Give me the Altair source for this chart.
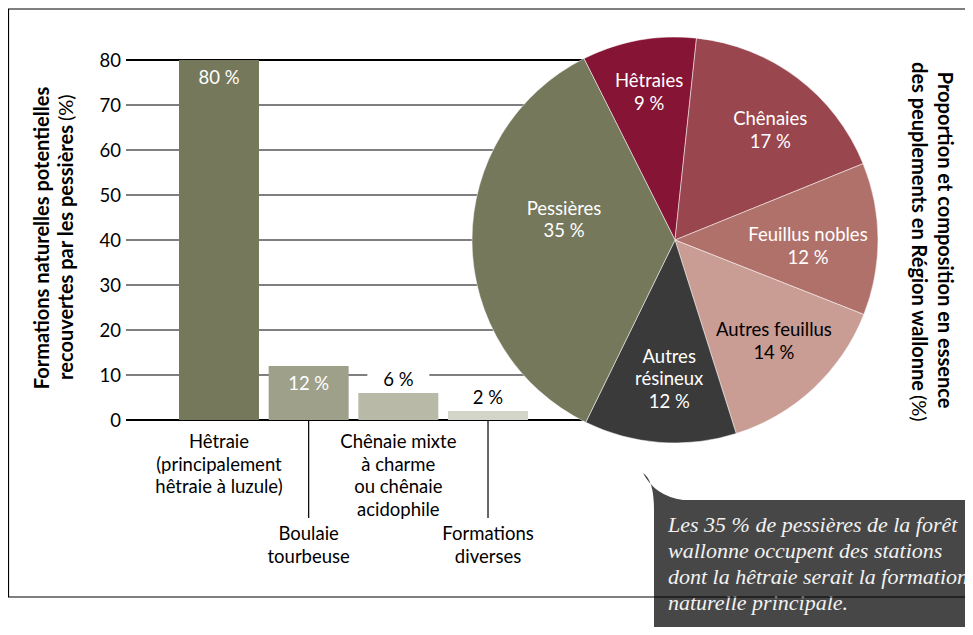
import math
import altair as alt
import pandas as pd

# ---------------- data ----------------
bar_cats = [
    "Hêtraie\n(principalement\nhêtraie à luzule)",
    "Boulaie\ntourbeuse",
    "Chênaie mixte\nà charme\nou chênaie\nacidophile",
    "Formations\ndiverses",
]
bar_vals = [80, 12, 6, 2]
bar_colors = ["#76785c", "#9ea08a", "#b8baa7", "#d4d5c9"]
y_ticks = [0, 10, 20, 30, 40, 50, 60, 70, 80]

pie_cats = ["Hêtraies", "Chênaies", "Feuillus nobles", "Autres feuillus", "Autres résineux", "Pessières"]
pie_names = ["Hêtraies", "Chênaies", "Feuillus nobles", "Autres feuillus", "Autres\nrésineux", "Pessières"]
pie_vals = [9, 17, 12, 14, 12, 35]
pie_colors = ["#861434", "#99464e", "#b1716b", "#c99c94", "#3a3a3a", "#76785c"]

left_title = ["Formations naturelles potentielles", "recouvertes par les pessières", "(%)"]
right_title = ["Proportion et composition en essence", "des peuplements en Région wallonne", "(%)"]
note_lines = [
    "Les 35 % de pessières de la forêt",
    "wallonne occupent des stations",
    "dont la hêtraie serait la formation",
    "naturelle principale.",
]

FONT = "Lato"
FS = 18.5
TFS = 20

bar_df = pd.DataFrame({"cat": bar_cats, "val": bar_vals,
                       "lab": [f"{v} %" for v in bar_vals]})
tick_df = pd.DataFrame({"v": y_ticks})
pie_df = pd.DataFrame({
    "pcat": pie_cats,
    "pval": pie_vals,
    "pidx": list(range(len(pie_cats))),
    "lab": [f"{n}\n{v} %" for n, v in zip(pie_names, pie_vals)],
})
one = pd.DataFrame({"a": [0]})

yscale = alt.Scale(domain=[0, 80], nice=False)
xscale = alt.Scale(domain=bar_cats, range=[53, 402], paddingInner=0.108, paddingOuter=0)
X = alt.X("cat:N", scale=xscale, axis=None, sort=bar_cats)

t0 = -0.465
theta = alt.Theta("pval:Q", stack=True, scale=alt.Scale(range=[t0, t0 + 2 * math.pi]))
CX, CY = 549, 180

# ---------------- layers ----------------
grid = alt.Chart(tick_df).mark_rule(color="black").encode(
    y=alt.Y("v:Q", scale=yscale, axis=None),
    x=alt.value(0), x2=alt.value(457),
    strokeWidth=alt.condition("datum.v == 0 || datum.v == 80", alt.value(2.2), alt.value(1.2)),
)
tick_labels = alt.Chart(tick_df).mark_text(
    align="right", baseline="middle", dx=-5, dy=1, font=FONT, fontSize=FS, color="black"
).encode(y=alt.Y("v:Q", scale=yscale, axis=None), x=alt.value(0), text="v:Q")

bars = alt.Chart(bar_df).mark_bar().encode(
    x=X,
    y=alt.Y("val:Q", scale=yscale, axis=None),
    color=alt.Color("cat:N", scale=alt.Scale(domain=bar_cats, range=bar_colors), legend=None),
)
patch = alt.Chart(bar_df).transform_filter("datum.val < 10").transform_calculate(
    hi="datum.val + 5.2", lo="datum.val + 1"
).mark_bar(color="white", size=62).encode(
    x=X, y=alt.Y("hi:Q", scale=yscale, axis=None), y2="lo:Q"
)
lab_in = alt.Chart(bar_df).transform_filter("datum.val >= 10").mark_text(
    baseline="middle", dy=18, font=FONT, fontSize=FS, color="white"
).encode(x=X, y=alt.Y("val:Q", scale=yscale, axis=None), text="lab:N")
lab_out = alt.Chart(bar_df).transform_filter("datum.val < 10").mark_text(
    baseline="middle", dy=-13, font=FONT, fontSize=FS, color="black"
).encode(x=X, y=alt.Y("val:Q", scale=yscale, axis=None), text="lab:N")

upper = [bar_cats[0], bar_cats[2]]
lower = [bar_cats[1], bar_cats[3]]
cat_up = alt.Chart(bar_df).transform_filter(alt.FieldOneOfPredicate(field="cat", oneOf=upper)).mark_text(
    baseline="alphabetic", lineBreak="\n", lineHeight=22.5, font=FONT, fontSize=FS, color="black"
).encode(x=X, y=alt.value(388), text="cat:N")
cat_low = alt.Chart(bar_df).transform_filter(alt.FieldOneOfPredicate(field="cat", oneOf=lower)).mark_text(
    baseline="alphabetic", lineBreak="\n", lineHeight=22.5, font=FONT, fontSize=FS, color="black"
).encode(x=X, y=alt.value(480), text="cat:N")
connectors = alt.Chart(bar_df).transform_filter(alt.FieldOneOfPredicate(field="cat", oneOf=lower)).mark_rule(
    color="black", strokeWidth=1.2
).encode(x=X, y=alt.value(360), y2=alt.value(458))

arcs = alt.Chart(pie_df).mark_arc(outerRadius=203, stroke="white", strokeWidth=0.5).encode(
    theta=theta,
    color=alt.Color("pcat:N", scale=alt.Scale(domain=pie_cats, range=pie_colors), legend=None),
    order=alt.Order("pidx:Q"),
    x=alt.value(CX), y=alt.value(CY),
)
pie_text = alt.Chart(pie_df).mark_text(
    radius=145, baseline="middle", lineBreak="\n", lineHeight=22.5, font=FONT, fontSize=FS,
    dx=alt.expr("datum.pcat === 'Pessières' ? 34 : datum.pcat === 'Feuillus nobles' ? -12 : datum.pcat === 'Chênaies' ? 8 : datum.pcat === 'Autres résineux' ? 5 : 0"),
    dy=alt.expr("datum.pcat === 'Pessières' ? -32 : datum.pcat === 'Hêtraies' ? -16 : datum.pcat === 'Autres feuillus' ? -16 : datum.pcat === 'Autres résineux' ? -28 : datum.pcat === 'Chênaies' ? -5 : -4"),
).encode(
    theta=theta,
    order=alt.Order("pidx:Q"),
    detail="pcat:N",
    text="lab:N",
    color=alt.condition("datum.pcat === 'Autres feuillus'", alt.value("black"), alt.value("white")),
    x=alt.value(CX), y=alt.value(CY),
)

def txt(s, **kw):
    return alt.Chart(pd.DataFrame({"t": [s]})).mark_text(font=FONT, fontSize=TFS, color="black", **kw)

lt1 = txt(left_title[0], angle=270, fontWeight="bold", align="center", baseline="middle").encode(
    text="t:N", x=alt.value(-83), y=alt.value(178))
lt2 = txt(left_title[1], angle=270, fontWeight="bold", align="right", baseline="middle").encode(
    text="t:N", x=alt.value(-59), y=alt.value(65))
lt3 = txt(left_title[2], angle=270, align="left", baseline="middle").encode(
    text="t:N", x=alt.value(-59), y=alt.value(61))

rt1 = txt(right_title[0], angle=90, fontWeight="bold", align="center", baseline="middle").encode(
    text="t:N", x=alt.value(818), y=alt.value(180))
rt2 = txt(right_title[1], angle=90, fontWeight="bold", align="right", baseline="middle").encode(
    text="t:N", x=alt.value(792), y=alt.value(331))
rt3 = txt(right_title[2], angle=90, align="left", baseline="middle").encode(
    text="t:N", x=alt.value(792), y=alt.value(335))

tail_path = "M -0.9 -0.9 Q -0.533 -0.667 -0.533 0.333 L -0.533 1 L 1 1 L 1 0 L 0.433 0 Q -0.5 -0.13 -0.9 -0.9 Z"
BOX = "#474747"
tail = alt.Chart(one).mark_point(shape=tail_path, filled=True, size=3600, color=BOX, opacity=1, strokeWidth=0).encode(
    x=alt.value(544), y=alt.value(440))
box = alt.Chart(one).mark_rect(cornerRadius=14, color=BOX).encode(
    x=alt.value(528), x2=alt.value(880), y=alt.value(440), y2=alt.value(585))
note = alt.Chart(pd.DataFrame({"t": ["\n".join(note_lines)]})).mark_text(
    align="left", baseline="alphabetic", lineBreak="\n", lineHeight=26,
    font="Liberation Serif", fontStyle="italic", fontSize=22, color="#f2f2f2"
).encode(text="t:N", x=alt.value(542), y=alt.value(472))

frame = alt.Chart(one).mark_rect(fill="transparent", stroke="black", strokeWidth=1.2).encode(
    x=alt.value(-117.5), x2=alt.value(900), y=alt.value(-51), y2=alt.value(537))

chart = alt.layer(
    grid, tick_labels, bars, patch, lab_in, lab_out, cat_up, cat_low, connectors,
    arcs, pie_text, lt1, lt2, lt3, rt1, rt2, rt3, tail, box, note, frame
).resolve_scale(color="independent").properties(
    width=457, height=360,
    padding={"left": 118, "top": 52, "right": 382, "bottom": 207},
    autosize=alt.AutoSizeParams(type="none"),
).configure_view(stroke=None)

chart.save("out.html", embed_options={"renderer": "svg", "actions": False})
